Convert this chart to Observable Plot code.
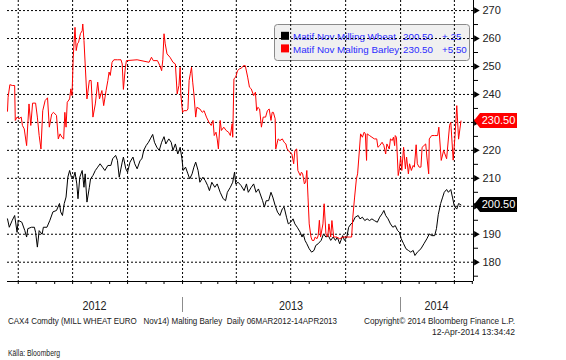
<!DOCTYPE html>
<html><head><meta charset="utf-8">
<script src="https://cdn.jsdelivr.net/npm/d3@7"></script>
<script src="https://cdn.jsdelivr.net/npm/@observablehq/plot@0.6"></script>
<style>
html,body{margin:0;padding:0;background:#fff;}
#chart{width:566px;height:360px;overflow:hidden;}
</style></head><body><div id="chart"></div>
<script>
// ---------- DATA ----------
const wheatDates = [
"2012-03-14","2012-03-17","2012-03-22","2012-03-26","2012-03-30","2012-04-01","2012-04-07","2012-04-12","2012-04-15","2012-04-17",
"2012-04-23","2012-04-28","2012-04-30","2012-05-03","2012-05-06","2012-05-11","2012-05-13","2012-05-19","2012-05-24","2012-05-29",
"2012-06-04","2012-06-09","2012-06-11","2012-06-14","2012-06-17","2012-06-20","2012-06-23","2012-06-26","2012-06-29","2012-07-02",
"2012-07-05","2012-07-08","2012-07-10","2012-07-13","2012-07-17","2012-07-20","2012-07-22","2012-07-25","2012-07-29","2012-07-31",
"2012-08-04","2012-08-08","2012-08-12","2012-08-16","2012-08-20","2012-08-24","2012-08-29","2012-09-03","2012-09-06","2012-09-11",
"2012-09-14","2012-09-17","2012-09-22","2012-09-24","2012-09-28","2012-10-01","2012-10-05","2012-10-10","2012-10-13","2012-10-17",
"2012-10-22","2012-10-25","2012-10-28","2012-11-01","2012-11-05","2012-11-08","2012-11-12","2012-11-15","2012-11-19","2012-11-23",
"2012-11-27","2012-12-01","2012-12-04","2012-12-09","2012-12-13","2012-12-16","2012-12-20","2012-12-24","2012-12-28","2012-12-31",
"2013-01-02","2013-01-06","2013-01-10","2013-01-13","2013-01-17","2013-01-20","2013-01-23","2013-01-27","2013-01-30","2013-02-04",
"2013-02-08","2013-02-12","2013-02-15","2013-02-19","2013-02-24","2013-02-28","2013-03-05","2013-03-10","2013-03-14","2013-03-17",
"2013-03-22","2013-03-26","2013-03-29","2013-03-31","2013-04-04","2013-04-09","2013-04-14","2013-04-18","2013-04-21","2013-04-26",
"2013-04-30","2013-05-04","2013-05-08","2013-05-11","2013-05-15","2013-05-18","2013-05-21","2013-05-25","2013-05-29","2013-06-01",
"2013-06-05","2013-06-09","2013-06-13","2013-06-17","2013-06-20","2013-06-24","2013-06-27","2013-07-01","2013-07-05","2013-07-08",
"2013-07-12","2013-07-17","2013-07-20","2013-07-22","2013-07-25","2013-07-28","2013-08-01","2013-08-05","2013-08-09","2013-08-12",
"2013-08-16","2013-08-21","2013-08-25","2013-08-29","2013-09-02","2013-09-06","2013-09-10","2013-09-14","2013-09-17","2013-09-21",
"2013-09-26","2013-09-29","2013-10-03","2013-10-06","2013-10-10","2013-10-13","2013-10-17","2013-10-22","2013-10-25","2013-10-29",
"2013-11-02","2013-11-06","2013-11-10","2013-11-14","2013-11-18","2013-11-23","2013-11-27","2013-12-01","2013-12-04","2013-12-07",
"2013-12-11","2013-12-15","2013-12-19","2013-12-23","2013-12-27","2013-12-30",
"2014-01-02","2014-01-06","2014-01-10","2014-01-14","2014-01-18","2014-01-22","2014-01-25","2014-01-29","2014-02-04","2014-02-09",
"2014-02-14","2014-02-18","2014-02-22","2014-02-27","2014-03-02","2014-03-05","2014-03-09","2014-03-12","2014-03-15","2014-03-19",
"2014-03-22","2014-03-26","2014-03-29","2014-04-01","2014-04-05","2014-04-08","2014-04-12"
];
const wheatPrices = [
195.5,192.5,195,196.7,190.7,195,194.3,191.3,189,192,
192.5,192.5,190.7,185.4,191.3,190,192.5,192.5,195,198,
198.5,201,198,196.7,201,203.3,210.4,212.8,210.4,209.8,
212.2,208,202.7,210.4,212.8,206.8,211.6,201.5,206.8,209.8,
211,212.8,214,215.2,214,212.8,214.6,214.6,217,218.2,
216.4,210.4,215.8,217.6,213.4,212.2,215.8,217.6,215.2,213.4,
216.4,217,220,221.7,222.9,224.1,225.7,222.9,221.1,220,
222.9,224.9,222.3,224.1,222.9,220,222.3,218.7,221.1,217,
212.8,214,211.6,209.8,211.6,214,215.8,212.8,208.6,210.4,
209.2,207.4,205.6,208.6,206.8,208,205,202.7,202,205,
206.8,208.6,212.2,208,208.6,207.4,205.6,208,205,206.8,
208,205,206.2,204.4,202,199.7,202,202,205,203.3,
200.3,197.9,196.7,199.1,199.7,196.1,193.7,194.3,195.5,193.7,
192.5,190.7,189,190.1,187.8,186.6,184.8,183.6,184.2,186,
186.6,187.8,190.1,189,189.5,187.8,189,187.8,189,186.6,
189.5,187.8,189,192.5,193.7,194.3,196.1,196.7,195.5,196.1,
194.9,195.5,194.9,195.5,194.9,194.3,196.1,197.3,198.5,196.7,
195.5,193.7,192.5,193.1,191.3,190.7,
188.4,186.6,184.8,184.2,183.6,184.2,182.4,183.6,184.8,186.6,
188.4,190.1,189.5,189.5,192,197,201,203,205,206,
205,206,203,200,199,201,200.5
];
const barleyDates = [
"2012-03-14","2012-03-15","2012-03-18","2012-03-22","2012-03-26","2012-03-27","2012-03-30","2012-04-02","2012-04-06","2012-04-08",
"2012-04-11","2012-04-15","2012-04-17","2012-04-19","2012-04-22","2012-04-25","2012-04-30","2012-05-03","2012-05-06","2012-05-09",
"2012-05-12","2012-05-16","2012-05-20","2012-05-23","2012-05-27","2012-05-30","2012-06-04","2012-06-07","2012-06-10","2012-06-13",
"2012-06-16","2012-06-18","2012-06-20","2012-06-22","2012-06-26","2012-06-28","2012-06-30","2012-07-02","2012-07-05","2012-07-07",
"2012-07-09","2012-07-11","2012-07-14","2012-07-17","2012-07-18","2012-07-20","2012-07-22","2012-07-25","2012-07-29","2012-08-01",
"2012-08-04","2012-08-08","2012-08-12","2012-08-15","2012-08-19","2012-08-22","2012-08-26","2012-08-29","2012-08-31","2012-09-02",
"2012-09-05","2012-09-08","2012-09-14","2012-09-20","2012-09-22","2012-09-24","2012-09-27","2012-09-29","2012-10-17","2012-11-06",
"2012-11-10","2012-11-13","2012-11-20","2012-11-24","2012-11-27","2012-11-29","2012-12-01","2012-12-03","2012-12-06","2012-12-11",
"2012-12-16","2012-12-20","2012-12-23","2012-12-26","2012-12-28","2012-12-29","2013-01-01","2013-01-03","2013-01-08","2013-01-10",
"2013-01-12","2013-01-14","2013-01-16","2013-01-18","2013-01-20","2013-01-23","2013-01-25","2013-01-30","2013-02-03","2013-02-06",
"2013-02-10","2013-02-14","2013-02-18","2013-02-21","2013-02-23","2013-02-26","2013-02-28","2013-03-02","2013-03-05","2013-03-07",
"2013-03-11","2013-03-15","2013-03-19","2013-03-22","2013-03-25","2013-03-26","2013-03-28","2013-03-31","2013-04-03","2013-04-06",
"2013-04-10","2013-04-13","2013-04-16","2013-04-20","2013-04-23","2013-04-26","2013-04-30","2013-05-03","2013-05-05","2013-05-07",
"2013-05-10","2013-05-13","2013-05-16","2013-05-20","2013-05-23","2013-05-26","2013-05-29","2013-05-31","2013-06-02","2013-06-05",
"2013-06-06","2013-06-10","2013-06-13","2013-06-17","2013-06-20","2013-06-23","2013-06-25","2013-06-27","2013-06-30","2013-07-03",
"2013-07-06","2013-07-08","2013-07-11","2013-07-13","2013-07-17","2013-07-19","2013-07-21","2013-07-24","2013-07-26","2013-07-28",
"2013-07-30","2013-08-01","2013-08-04","2013-08-06","2013-08-09","2013-08-11","2013-08-14","2013-08-16","2013-08-18","2013-08-20",
"2013-08-24","2013-08-26","2013-08-29","2013-09-01","2013-09-03","2013-09-06","2013-09-08","2013-09-11","2013-09-16","2013-09-21",
"2013-09-27","2013-10-02","2013-10-07","2013-10-11","2013-10-13","2013-10-16","2013-10-19","2013-10-21","2013-10-24","2013-10-26",
"2013-10-29","2013-11-01","2013-11-03","2013-11-05","2013-11-06","2013-11-10","2013-11-14","2013-11-18","2013-11-22","2013-11-24",
"2013-11-27","2013-12-01","2013-12-04","2013-12-07","2013-12-09","2013-12-13","2013-12-15","2013-12-18","2013-12-20","2013-12-22",
"2013-12-23","2013-12-25","2013-12-28","2013-12-30","2014-01-01","2014-01-03","2014-01-06","2014-01-09","2014-01-11","2014-01-14",
"2014-01-16","2014-01-19","2014-01-22","2014-01-24","2014-01-27","2014-01-29","2014-02-01","2014-02-04","2014-02-06","2014-02-09",
"2014-02-12","2014-02-14","2014-02-17","2014-02-18","2014-02-22","2014-02-27","2014-03-04","2014-03-06","2014-03-10","2014-03-14",
"2014-03-19","2014-03-24","2014-03-26","2014-03-30","2014-04-02","2014-04-05","2014-04-08","2014-04-12"
];
const barleyPrices = [
234,239,243.5,243.2,243.2,230.7,231.9,231.3,231.9,228.9,
227.7,221.7,229.5,236.6,228.9,236.9,236.9,231.9,225.3,220.5,
234.2,237.8,238.8,228.3,233,233.6,232.5,224.1,225.9,224.7,
224.1,233.6,228.3,237.2,238.4,242,239.6,253.3,264,255.7,
258.1,258.7,261.7,262.8,265.2,259.3,250.9,238.4,245,245,
231.9,236.6,244.4,238.4,241.4,236,241.4,245,248,246.8,
251.5,252.4,252.4,252.4,250.9,241.8,249.1,252.1,252.4,251.5,
253.3,252.1,252.1,250.3,248.5,252.4,261.7,258.1,254.5,253.3,
251.5,250.9,240.2,243.2,249.7,240.2,233.6,234.2,234.2,234.8,
245,247.4,249.7,244.4,240.2,231.9,235.4,234.8,233.6,234.2,
231.9,230.1,228.9,230.7,225.3,226.5,224.1,220.5,230.7,227.1,
228.3,227.1,226.5,225.3,229.5,224.7,245.6,246.2,248.5,249.1,
249.5,250.3,250.3,246.2,242.6,242,239.6,240.8,234.2,235.4,
234.8,228.3,231.9,231.9,234.2,234.8,230.7,233.6,233.6,231.3,
220.5,224.1,223.5,224.1,222.9,222.3,220.5,219.9,219.3,218.7,
215.2,219.9,220.5,212.8,211,212.2,211.6,208,208.6,212.8,
203.3,193.7,189,187.8,187.8,189,188.4,189.5,195,189,
193.7,200.9,190.1,189,193.7,189,194.9,189,189,188.4,
189,189,189,189,196.1,203.3,209.8,211.6,220,225.9,
224.7,226.5,225.9,216.4,225.9,225.3,224.7,224.1,224.1,221.1,
221.7,222.9,221.7,218.7,222.3,220.5,224.1,223.5,224.7,221.7,
225.3,224.7,211,213.4,217.6,212.8,221.1,213.4,217.6,211.6,
215.2,212.8,214.6,214,222,215.2,214,214,221.1,221.7,
222.3,217.6,211.6,224.1,225.3,225.3,225.3,228.3,216.4,220,
217,229,230,216.5,225,236,224,230.5
];
const seriesNames = ["Matif Nov Milling Wheat", "Matif Nov Malting Barley:"];
const seriesColors = ["#000000", "#ff0000"];
const lastValues = [200.50, 230.50];
const changes = ["+.25", "+5.50"];
const yMajorTicks = [180,190,200,210,220,230,240,250,260,270];
const yLabelTicks = [180,190,210,220,240,250,260,270]; // 200 and 230 are covered by the value tags
const yMinorTicks = [175,185,195,205,215,225,235,245,255,265];
const gridDates = ["2012-04-01","2012-07-01","2012-10-01","2013-01-01","2013-04-01","2013-07-01","2013-10-01","2014-01-01","2014-04-01"];
const yearLabels = ["2012","2013","2014"];
const yearStarts = ["2012-01-01","2013-01-01","2014-01-01","2015-01-01"];
const captionLeft = "CAX4 Comdty (MILL WHEAT EURO   Nov14) Malting Barley  Daily 06MAR2012-14APR2013";
const captionRight1 = "Copyright\u00A9 2014 Bloomberg Finance L.P.";
const captionRight2 = "12-Apr-2014 13:34:42";
const sourceText = "K\u00E4lla: Bloomberg";

// ---------- BUILD ----------
const wheat = wheatDates.map((d, i) => ({date: new Date(d), price: wheatPrices[i]}));
const barley = barleyDates.map((d, i) => ({date: new Date(d), price: barleyPrices[i]}));
const xDomain = [new Date("2012-03-14"), new Date("2014-05-03")];
const yDomain = [173.1, 273.6];
const font = "'Liberation Sans', Arial, sans-serif";
const fmt = d3.format(".2f");
const monthTicks = d3.utcMonths(new Date("2012-04-01"), new Date("2014-05-02"));

function legendMark() {
  const g = d3.create("svg:g").attr("font-family", font).attr("text-anchor", "start");
  g.append("rect").attr("x", 274.5).attr("y", 24.5).attr("width", 195).attr("height", 36)
    .attr("rx", 3).attr("fill", "#f0f0f0").attr("stroke", "#8a8a8a");
  seriesNames.forEach((name, i) => {
    const base = 40.3 + i * 12.6;
    g.append("rect").attr("x", 281).attr("y", base - 8.5).attr("width", 8).attr("height", 8).attr("fill", seriesColors[i]);
    const t = g.append("g").attr("fill", "#2b2bff").attr("font-size", 9.8);
    t.append("text").attr("x", 293).attr("y", base).text(name);
    t.append("text").attr("x", 403).attr("y", base).text(fmt(lastValues[i]));
    t.append("text").attr("x", 442).attr("y", base).text(changes[i]);
  });
  return g.node();
}

function tagMark(index, scales) {
  const g = d3.create("svg:g").attr("font-family", font);
  lastValues.forEach((v, i) => {
    const y = scales.y(v);
    const x0 = 474;
    g.append("path")
      .attr("d", `M${x0},${y}L${x0 + 6},${y - 7.5}L${x0 + 43},${y - 7.5}L${x0 + 43},${y + 7.5}L${x0 + 6},${y + 7.5}Z`)
      .attr("fill", seriesColors[i]);
    g.append("text").attr("x", x0 + 24.5).attr("y", y).attr("dy", "0.36em")
      .attr("text-anchor", "middle").attr("fill", "#fff").attr("font-size", 11).text(fmt(v));
  });
  return g.node();
}

function bottomMark(index, scales) {
  const g = d3.create("svg:g").attr("font-family", font).attr("fill", "#1a1a1a").attr("text-anchor", "start");
  const x = scales.x;
  yearLabels.forEach((lab, i) => {
    const a = Math.max(+new Date(yearStarts[i]), +xDomain[0]);
    const b = Math.min(+new Date(yearStarts[i + 1]), +xDomain[1]);
    const cx = (x(new Date(a)) + x(new Date(b))) / 2;
    g.append("text").attr("x", cx).attr("y", 310).attr("text-anchor", "middle")
      .attr("font-size", 12.5).attr("fill", "#222").attr("textLength", 24).attr("lengthAdjust", "spacingAndGlyphs").text(lab);
  });
  [yearStarts[1], yearStarts[2]].forEach(d => {
    const px = Math.round(x(new Date(d))) + 0.5;
    g.append("line").attr("x1", px).attr("x2", px).attr("y1", 297).attr("y2", 312).attr("stroke", "#8c8c8c");
  });
  g.append("text").attr("x", 8).attr("y", 323.5).attr("font-size", 9).style("white-space", "pre")
    .attr("textLength", 329).attr("lengthAdjust", "spacingAndGlyphs").text(captionLeft);
  g.append("text").attr("x", 515).attr("y", 323.5).attr("font-size", 9).attr("text-anchor", "end")
    .attr("textLength", 151).attr("lengthAdjust", "spacingAndGlyphs").text(captionRight1);
  g.append("text").attr("x", 515).attr("y", 335).attr("font-size", 9).attr("text-anchor", "end")
    .attr("textLength", 83).attr("lengthAdjust", "spacingAndGlyphs").text(captionRight2);
  g.append("text").attr("x", 8).attr("y", 355.5).attr("font-size", 8.5)
    .attr("textLength", 52).attr("lengthAdjust", "spacingAndGlyphs").text(sourceText);
  return g.node();
}

const chart = Plot.plot({
  width: 566,
  height: 360,
  marginLeft: 7,
  marginRight: 93,
  marginTop: 0,
  marginBottom: 79,
  x: {type: "utc", domain: xDomain},
  y: {domain: yDomain},
  style: {fontFamily: font, background: "#fff", overflow: "visible", color: "#000"},
  marks: [
    legendMark,
    Plot.ruleY(yMajorTicks, {stroke: "#000", strokeWidth: 1, strokeDasharray: "2,2"}),
    Plot.ruleX(gridDates.map(d => new Date(d)), {stroke: "#000", strokeWidth: 1, strokeDasharray: "2,2"}),
    Plot.line(wheat, {x: "date", y: "price", stroke: seriesColors[0], strokeWidth: 1}),
    Plot.line(barley, {x: "date", y: "price", stroke: seriesColors[1], strokeWidth: 1}),
    Plot.ruleX([xDomain[1]], {stroke: "#000"}),
    Plot.ruleY([yDomain[0]], {stroke: "#000"}),
    Plot.axisY(yMinorTicks, {anchor: "right", tickSize: 4, tickFormat: () => "", label: null, stroke: "#000"}),
    Plot.axisY(yLabelTicks, {anchor: "right", tickSize: 0, tickPadding: 9, fontSize: 11, label: null, fill: "#222"}),
    Plot.dot(yMajorTicks, {y: d => d, frameAnchor: "right", symbol: "triangle", rotate: 90, r: 2.4, fill: "#000", stroke: "none", dx: 2.5}),
    Plot.axisX(monthTicks, {tickSize: 3, tickFormat: () => "", label: null, stroke: "#000"}),
    bottomMark,
    tagMark
  ]
});
document.getElementById("chart").append(chart);
</script>
</body></html>
